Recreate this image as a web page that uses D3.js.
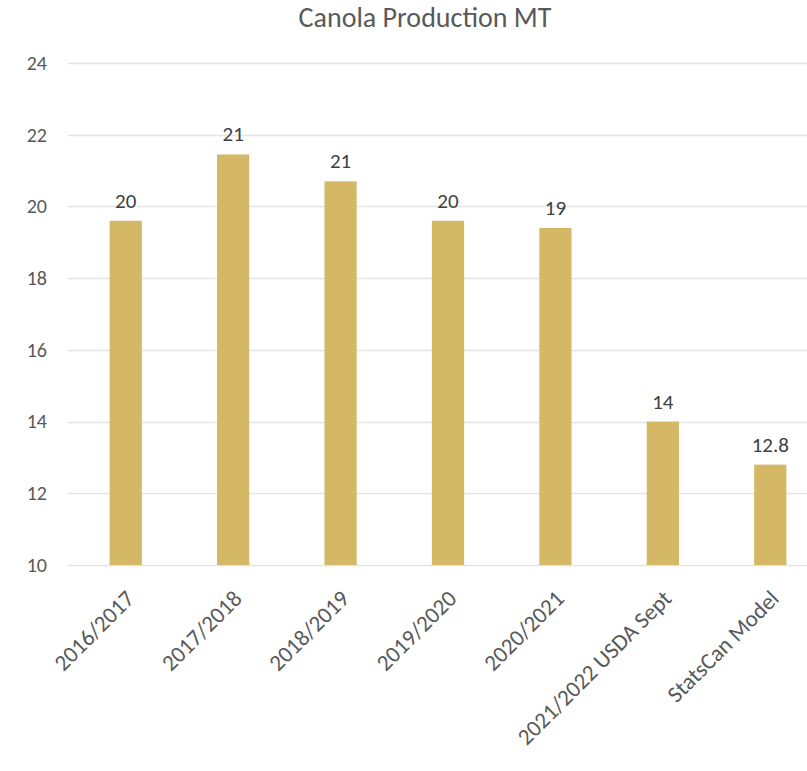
<!DOCTYPE html>
<html>
<head>
<meta charset="utf-8">
<script src="https://cdn.jsdelivr.net/npm/d3@7/dist/d3.min.js"></script>
<style>
  html, body { margin: 0; padding: 0; background: #ffffff; }
  svg { display: block; }
  text { font-family: Carlito, Calibri, Lato, "Open Sans", sans-serif; }
</style>
</head>
<body>
<div id="chart"></div>
<script>
// Canola production by season (million tonnes)
const categories = ["2016/2017", "2017/2018", "2018/2019", "2019/2020", "2020/2021", "2021/2022 USDA Sept", "StatsCan Model"];
const production = [19.6, 21.45, 20.7, 19.6, 19.4, 14.0, 12.8];
const labelDecimals = [0, 0, 0, 0, 0, 0, 1];
const yTicks = [10, 12, 14, 16, 18, 20, 22, 24];
const chartTitle = "Canola Production MT";

const width = 807, height = 771;
const margin = { top: 63, right: -17, bottom: 206, left: 72 };
const fontStack = "Carlito, Calibri, Lato, 'Open Sans', sans-serif";

const svg = d3.select("#chart").append("svg")
  .attr("width", width)
  .attr("height", height);

const x = d3.scaleBand()
  .domain(categories)
  .range([margin.left, width - margin.right]);

const y = d3.scaleLinear()
  .domain([10, 24])
  .range([height - margin.bottom, margin.top]);

// Horizontal gridlines
svg.append("g")
  .attr("class", "grid")
  .selectAll("line")
  .data(yTicks)
  .join("line")
  .attr("x1", margin.left - 4)
  .attr("x2", width - margin.right)
  .attr("y1", d => Math.round(y(d)) + 0.5)
  .attr("y2", d => Math.round(y(d)) + 0.5)
  .attr("stroke", "#e4e4e4")
  .attr("stroke-width", 1.5);

// Y axis labels
const yAxis = d3.axisLeft(y).tickValues(yTicks).tickSize(0).tickPadding(0);
svg.append("g")
  .attr("transform", "translate(47,0)")
  .call(yAxis)
  .call(g => g.select(".domain").remove())
  .selectAll("text")
  .attr("font-family", fontStack)
  .attr("font-size", 20)
  .attr("fill", "#595959");

// Bars
const barWidth = x.bandwidth() * 0.3;
svg.append("g")
  .selectAll("rect")
  .data(categories)
  .join("rect")
  .attr("x", d => x(d) + (x.bandwidth() - barWidth) / 2)
  .attr("width", barWidth)
  .attr("y", (d, i) => y(production[i]))
  .attr("height", (d, i) => y(10) - y(production[i]))
  .attr("fill", "#d5b866");

// Value labels
svg.append("g")
  .selectAll("text")
  .data(categories)
  .join("text")
  .attr("x", d => x(d) + x.bandwidth() / 2)
  .attr("y", (d, i) => y(production[i]) - 13)
  .attr("text-anchor", "middle")
  .attr("font-size", 21)
  .attr("fill", "#404040")
  .text((d, i) => production[i].toFixed(labelDecimals[i]));

// X axis labels, rotated
const xAxis = d3.axisBottom(x).tickSize(0).tickPadding(0);
svg.append("g")
  .attr("transform", `translate(0,${y(10)})`)
  .call(xAxis)
  .call(g => g.select(".domain").remove())
  .selectAll("text")
  .attr("font-family", fontStack)
  .attr("font-size", 23)
  .attr("fill", "#595959")
  .attr("text-anchor", "end")
  .attr("y", 0)
  .attr("dy", 0)
  .attr("transform", "translate(10,35) rotate(-45)");

// Title
svg.append("text")
  .attr("x", 425)
  .attr("y", 27)
  .attr("text-anchor", "middle")
  .attr("font-size", 28)
  .attr("fill", "#595959")
  .text(chartTitle);
</script>
</body>
</html>
